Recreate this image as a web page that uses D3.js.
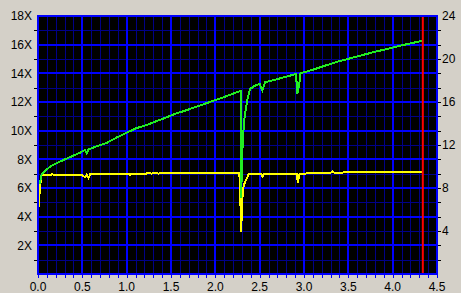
<!DOCTYPE html>
<html>
<head>
<meta charset="utf-8">
<script src="https://cdnjs.cloudflare.com/ajax/libs/d3/7.8.5/d3.min.js"></script>
<style>
    html, body { margin: 0; padding: 0; background: #d4d0c8; }
    svg { display: block; }
    .lbl { font-family: "Liberation Sans", Arial, sans-serif; font-size: 12px; fill: #000; }
</style>
</head>
<body>
<div id="vis"></div>
<script>
// Read speed (green, X) and second trace (yellow) versus position
var greenX = [0.02, 0.04, 0.06, 0.15, 0.25, 0.36, 0.47, 0.53, 0.55, 0.57, 0.66, 0.775, 0.88, 1.00, 1.10, 1.225, 1.33, 1.45, 1.56, 1.68, 1.80, 1.98, 2.10, 2.20, 2.285, 2.29, 2.31, 2.33, 2.36, 2.39, 2.45, 2.50, 2.53, 2.56, 2.65, 2.73, 2.82, 2.91, 2.925, 2.946, 2.96, 3.10, 3.22, 3.40, 3.59, 3.78, 3.97, 4.15, 4.34];
var greenY = [6.3, 6.9, 7.1, 7.55, 7.85, 8.15, 8.45, 8.65, 8.4, 8.7, 8.9, 9.15, 9.5, 9.86, 10.15, 10.4, 10.65, 10.93, 11.2, 11.44, 11.7, 12.09, 12.35, 12.58, 12.77, 5.3, 9.5, 10.96, 12.14, 12.9, 13.15, 13.26, 12.8, 13.38, 13.52, 13.65, 13.8, 13.95, 12.55, 13.2, 14.0, 14.25, 14.5, 14.85, 15.16, 15.47, 15.75, 16.02, 16.28];

var yellowX = [0.00, 0.005, 0.02, 0.03, 0.04, 0.15, 0.16, 0.18, 0.50, 0.53, 0.55, 0.57, 0.59, 1.03, 1.04, 1.05, 1.22, 1.24, 1.28, 1.32, 1.36, 1.38, 2.27, 2.28, 2.29, 2.31, 2.33, 2.355, 2.38, 2.52, 2.53, 2.55, 2.92, 2.93, 2.95, 3.30, 3.32, 3.35, 3.50, 3.55, 3.60, 4.34];
var yellowY = [3.7, 4.6, 5.8, 6.45, 6.9, 6.9, 7.0, 6.88, 6.88, 6.75, 6.95, 6.7, 6.98, 6.98, 6.9, 7.0, 7.0, 7.08, 7.0, 7.08, 7.0, 7.05, 7.05, 6.0, 2.9, 5.86, 6.33, 6.68, 7.0, 7.0, 6.79, 7.0, 7.0, 6.33, 7.0, 7.05, 7.15, 7.05, 7.1, 7.15, 7.1, 7.12];

// end marker position
var endMarker = 4.34;

// tick labels
var xTickLabels = [0, 0.5, 1, 1.5, 2, 2.5, 3, 3.5, 4, 4.5];
var leftTickLabels = [2, 4, 6, 8, 10, 12, 14, 16, 18];
var rightTickLabels = [4, 8, 12, 16, 20, 24];

(function() {
    var width = 461;
    var height = 293;

    // plot frame
    var left = 38, right = 437, top = 16, bottom = 274;

    var svg = d3.select("#vis").append("svg").attr("width", width).attr("height", height);

    var xScale = d3.scaleLinear().domain([0, 4.5]).range([left, right]);
    var yScale = d3.scaleLinear().domain([0, 18]).range([bottom, top]);
    var yRight = d3.scaleLinear().domain([0, 24]).range([bottom, top]);

    // black plot background
    svg.append("rect")
        .attr("x", left).attr("y", top)
        .attr("width", right - left).attr("height", bottom - top)
        .attr("fill", "#000");

    /************** grid **************/
    var minorX = d3.range(0, 46).map(function(i) { return i / 10; }).filter(function(d, i) { return i % 5 != 0; });
    var minorY = d3.range(1, 18, 2);

    var grid = svg.append("g").attr("shape-rendering", "crispEdges");
    grid.selectAll(".vminor").data(minorX).enter().append("line")
        .attr("x1", function(d) { return Math.round(xScale(d)) + 0.5; })
        .attr("x2", function(d) { return Math.round(xScale(d)) + 0.5; })
        .attr("y1", top).attr("y2", bottom)
        .attr("stroke", "#000088").attr("stroke-width", 1);
    grid.selectAll(".hminor").data(minorY).enter().append("line")
        .attr("y1", function(d) { return Math.round(yScale(d)) + 0.5; })
        .attr("y2", function(d) { return Math.round(yScale(d)) + 0.5; })
        .attr("x1", left).attr("x2", right)
        .attr("stroke", "#000088").attr("stroke-width", 1);

    grid.selectAll(".vmajor").data(xTickLabels).enter().append("line")
        .attr("x1", function(d) { return Math.round(xScale(d)); })
        .attr("x2", function(d) { return Math.round(xScale(d)); })
        .attr("y1", top).attr("y2", bottom)
        .attr("stroke", "#0000ff").attr("stroke-width", 2);
    grid.selectAll(".hmajor").data([0].concat(leftTickLabels)).enter().append("line")
        .attr("y1", function(d) { return Math.round(yScale(d)); })
        .attr("y2", function(d) { return Math.round(yScale(d)); })
        .attr("x1", left - 1).attr("x2", right + 1)
        .attr("stroke", "#0000ff").attr("stroke-width", 2);

    /************** axes (ticks + labels) **************/
    // bottom ticks every 0.1
    var xTicks = d3.range(0, 46).map(function(i) { return i / 10; });
    grid.selectAll(".xt").data(xTicks).enter().append("line")
        .attr("x1", function(d) { return Math.round(xScale(d)) + 0.5; })
        .attr("x2", function(d) { return Math.round(xScale(d)) + 0.5; })
        .attr("y1", bottom + 1).attr("y2", bottom + 4)
        .attr("stroke", "#0000ff");
    svg.selectAll(".xl").data(xTickLabels).enter().append("text")
        .attr("class", "lbl")
        .attr("x", function(d) { return xScale(d); })
        .attr("y", 291)
        .attr("text-anchor", "middle")
        .text(function(d) { return d3.format(".1f")(d); });

    // left ticks at odd values, labels at even values
    grid.selectAll(".ylt").data(minorY).enter().append("line")
        .attr("y1", function(d) { return Math.round(yScale(d)) + 0.5; })
        .attr("y2", function(d) { return Math.round(yScale(d)) + 0.5; })
        .attr("x1", left - 4).attr("x2", left - 1)
        .attr("stroke", "#000");
    svg.selectAll(".yl").data(leftTickLabels).enter().append("text")
        .attr("class", "lbl")
        .attr("x", 32)
        .attr("y", function(d) { return yScale(d); })
        .attr("dy", "0.36em")
        .attr("text-anchor", "end")
        .text(function(d) { return d + "X"; });

    // right ticks on every grid row, labels every 4
    var rightTicks = d3.range(1, 18).map(function(i) { return i * 4 / 3; });
    grid.selectAll(".yrt").data(rightTicks).enter().append("line")
        .attr("y1", function(d) { return Math.round(yRight(d)) + 0.5; })
        .attr("y2", function(d) { return Math.round(yRight(d)) + 0.5; })
        .attr("x1", right + 1).attr("x2", right + 4)
        .attr("stroke", "#000");
    svg.selectAll(".yr").data(rightTickLabels).enter().append("text")
        .attr("class", "lbl")
        .attr("x", 442)
        .attr("y", function(d) { return yRight(d); })
        .attr("dy", "0.36em")
        .text(function(d) { return d; });

    /************** series **************/
    var line = d3.line()
        .x(function(d) { return xScale(d[0]); })
        .y(function(d) { return yScale(d[1]); });

    svg.append("path")
        .datum(d3.zip(yellowX, yellowY))
        .attr("d", line)
        .attr("fill", "none")
        .attr("stroke", "#ffff00")
        .attr("stroke-width", 2)
        .attr("shape-rendering", "crispEdges");

    svg.append("path")
        .datum(d3.zip(greenX, greenY))
        .attr("d", line)
        .attr("fill", "none")
        .attr("stroke", "#22ee22")
        .attr("stroke-width", 2)
        .attr("shape-rendering", "crispEdges");

    // red end marker
    svg.append("line")
        .attr("x1", xScale(endMarker)).attr("x2", xScale(endMarker))
        .attr("y1", top).attr("y2", bottom)
        .attr("stroke", "#ff0000").attr("stroke-width", 2);

    // frame
    svg.append("rect")
        .attr("x", left).attr("y", top)
        .attr("width", right - left).attr("height", bottom - top)
        .attr("fill", "none")
        .attr("stroke", "#0000ff").attr("stroke-width", 2);
})();
</script>
</body>
</html>
